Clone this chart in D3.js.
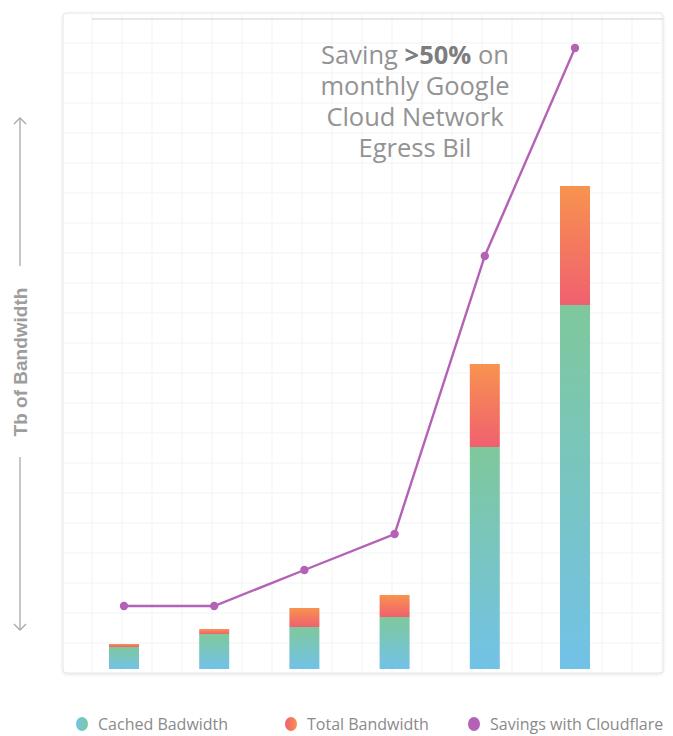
<!DOCTYPE html>
<html>
<head>
<meta charset="utf-8">
<script src="https://cdn.jsdelivr.net/npm/d3@7"></script>
<style>
  body { margin: 0; background: #fff; }
  svg { display: block; font-family: "Open Sans", sans-serif; }
</style>
</head>
<body>
<div class="chart_container"></div>
<script>
// data (Tb, arbitrary units)
var periods = ["P1", "P2", "P3", "P4", "P5", "P6"];
var cached = [2.2, 3.5, 4.2, 5.2, 22.2, 36.4];
var total = [2.5, 4.0, 6.1, 7.4, 30.5, 48.3];
var savings = [6.3, 6.3, 9.9, 13.5, 41.3, 62.1];
var legend_labels = ["Cached Badwidth", "Total Bandwidth", "Savings with Cloudflare"];

var w = 673
var h = 736
var svg = d3.select('.chart_container')
            .append('svg')
            .attr('width', w)
            .attr('height', h);

var defs = svg.append('defs');
// vertical gradients for bars
var g_cached = defs.append('linearGradient').attr('id', 'grad_cached')
    .attr('x1', 0).attr('y1', 1).attr('x2', 0).attr('y2', 0);
g_cached.append('stop').attr('offset', '0%').attr('stop-color', '#72c2e8');
g_cached.append('stop').attr('offset', '100%').attr('stop-color', '#7fc89c');
var g_total = defs.append('linearGradient').attr('id', 'grad_total')
    .attr('x1', 0).attr('y1', 1).attr('x2', 0).attr('y2', 0);
g_total.append('stop').attr('offset', '0%').attr('stop-color', '#f0606f');
g_total.append('stop').attr('offset', '100%').attr('stop-color', '#f8934f');
// horizontal ones for legend dots
var l_cached = defs.append('linearGradient').attr('id', 'leg_cached');
l_cached.append('stop').attr('offset', '0%').attr('stop-color', '#72c2e8');
l_cached.append('stop').attr('offset', '100%').attr('stop-color', '#7fc89c');
var l_total = defs.append('linearGradient').attr('id', 'leg_total');
l_total.append('stop').attr('offset', '0%').attr('stop-color', '#f0606f');
l_total.append('stop').attr('offset', '100%').attr('stop-color', '#f8934f');
var shadow = defs.append('filter').attr('id', 'shadow')
    .attr('x', '-5%').attr('y', '-5%').attr('width', '110%').attr('height', '110%');
shadow.append('feDropShadow').attr('dx', 0).attr('dy', 1).attr('stdDeviation', 1.5)
    .attr('flood-color', '#000').attr('flood-opacity', 0.12);

//plot frame
var f_x0 = 63, f_x1 = 663, f_y0 = 13, f_y1 = 673;
svg.append('rect')
    .attr('x', f_x0).attr('y', f_y0)
    .attr('width', f_x1 - f_x0).attr('height', f_y1 - f_y0)
    .attr('rx', 4)
    .style('fill', '#fff')
    .style('stroke', '#e6e6e6')
    .attr('filter', 'url(#shadow)');

//grid
var grid = svg.append('g').attr('class', 'grid');
d3.range(f_x0 + 29, f_x1, 30).forEach(function(x){
    grid.append('line').attr('x1', x).attr('x2', x).attr('y1', f_y0 + 1).attr('y2', f_y1 - 1)
        .style('stroke', '#f1f3f3').style('stroke-width', 1);
});
d3.range(f_y0 + 30, f_y1 - 5, 30).forEach(function(y){
    grid.append('line').attr('x1', f_x0 + 1).attr('x2', f_x1 - 1).attr('y1', y).attr('y2', y)
        .style('stroke', '#f1f3f3').style('stroke-width', 1);
});
// darker line at the top
svg.append('line')
    .attr('x1', 92).attr('x2', f_x1).attr('y1', 19).attr('y2', 19)
    .style('stroke', '#cfcfcf').style('stroke-width', 1.2);

//scales
var x_scale = d3.scalePoint()
                .domain(periods)
                .range([124, 575]);
var y_scale = d3.scaleLinear()
                .domain([0, 65])
                .range([669, 19]);
var bar_w = 30;

var rows = periods.map(function(p, i){
    return {period: p, cached: cached[i], total: total[i], savings: savings[i]};
});

//bars
var bars = svg.selectAll('.bar')
            .data(rows)
            .enter()
            .append('g')
            .attr('class', 'bar');
bars.append('rect')
    .attr('class', 'total_bw')
    .attr('x', d => x_scale(d.period) - bar_w/2)
    .attr('y', d => y_scale(d.total))
    .attr('width', bar_w)
    .attr('height', d => y_scale(d.cached) - y_scale(d.total))
    .style('fill', 'url(#grad_total)');
bars.append('rect')
    .attr('class', 'cached_bw')
    .attr('x', d => x_scale(d.period) - bar_w/2)
    .attr('y', d => y_scale(d.cached))
    .attr('width', bar_w)
    .attr('height', d => y_scale(0) - y_scale(d.cached))
    .style('fill', 'url(#grad_cached)');

//savings line
var line = d3.line()
            .x(d => x_scale(d.period))
            .y(d => y_scale(d.savings));
svg.append('path')
    .datum(rows)
    .attr('d', line)
    .style('fill', 'none')
    .style('stroke', '#b462b6')
    .style('stroke-width', 2.4);
svg.selectAll('.sav_dot')
    .data(rows)
    .enter()
    .append('circle')
    .attr('class', 'sav_dot')
    .attr('cx', d => x_scale(d.period))
    .attr('cy', d => y_scale(d.savings))
    .attr('r', 4.2)
    .style('fill', '#b462b6');

//annotation
var note = svg.append('text')
    .attr('x', 415)
    .attr('y', 64)
    .style('text-anchor', 'middle')
    .style('font-size', '25.5px')
    .style('fill', '#939393');
var l1 = note.append('tspan').attr('x', 415).attr('dy', 0);
l1.append('tspan').text('Saving ');
l1.append('tspan').style('font-weight', 700).style('fill', '#7d7d7d').text('>50%');
l1.append('tspan').text(' on');
note.append('tspan').attr('x', 415).attr('dy', 31).text('monthly Google');
note.append('tspan').attr('x', 415).attr('dy', 31).text('Cloud Network');
note.append('tspan').attr('x', 415).attr('dy', 31).text('Egress Bil');

//y axis label with arrows
var ax_x = 20;
svg.append('text')
    .attr('transform', 'translate(' + (ax_x + 7) + ',362) rotate(-90)')
    .style('text-anchor', 'middle')
    .style('font-family', '"Liberation Sans", Arial, sans-serif')
    .style('font-size', '19px')
    .style('font-weight', 700)
    .style('fill', '#9d9d9d')
    .text('Tb of Bandwidth');
var axis_g = svg.append('g')
    .style('stroke', '#a8a8a8')
    .style('stroke-width', 1.3)
    .style('fill', 'none');
axis_g.append('line').attr('x1', ax_x).attr('x2', ax_x).attr('y1', 118).attr('y2', 266);
axis_g.append('line').attr('x1', ax_x).attr('x2', ax_x).attr('y1', 457).attr('y2', 630);
axis_g.append('path').attr('d', d3.line()([[ax_x - 6, 124], [ax_x, 118], [ax_x + 6, 124]]));
axis_g.append('path').attr('d', d3.line()([[ax_x - 6, 624], [ax_x, 630], [ax_x + 6, 624]]));

//legend
var legend_x = [82, 291, 474];
var legend_fill = ['url(#leg_cached)', 'url(#leg_total)', '#b462b6'];
var legend = svg.selectAll('.legend')
    .data(legend_labels)
    .enter()
    .append('g')
    .attr('class', 'legend')
    .attr('transform', (d, i) => 'translate(' + legend_x[i] + ',724)');
legend.append('ellipse')
    .attr('rx', 6)
    .attr('ry', 7)
    .style('fill', (d, i) => legend_fill[i]);
legend.append('text')
    .attr('x', 16)
    .attr('dy', '0.35em')
    .style('font-size', '16px')
    .style('fill', '#8a8a8a')
    .text(d => d);
</script>
</body>
</html>
